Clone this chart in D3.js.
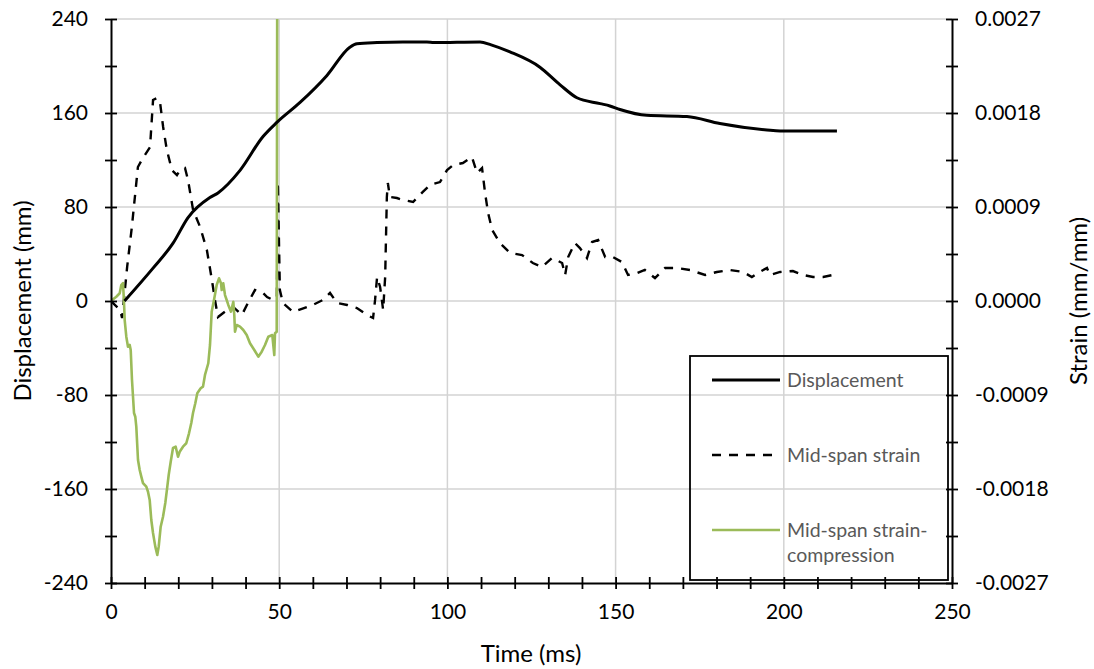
<!DOCTYPE html>
<html>
<head>
<meta charset="utf-8">
<script src="https://cdn.jsdelivr.net/npm/d3@7"></script>
<style>
  html, body { margin: 0; padding: 0; background: #fff; }
  svg { display: block; font-family: Lato, "Open Sans", "DejaVu Sans", sans-serif; }
</style>
</head>
<body>
<svg id="chart" width="1094" height="669"></svg>
<script>
// Time (ms) and displacement (mm) at mid-span
const dispTime = [4, 12.5, 18.4, 22.9, 29.4, 31.8, 38.3, 45.2, 49.3, 56.2, 64.2, 71.0, 73.1, 79.1, 86.8, 93.9, 96, 109.7, 113, 118.6, 127.5, 133.5, 138.5, 145.4, 148.3, 151.3, 159.3, 171.2, 181, 195, 198.9, 215.8];
const dispValue = [0, 28, 49, 71, 88, 92, 111, 140, 152, 169, 192, 216, 219, 220, 220.5, 220.5, 220, 220.5, 218, 212, 199, 184, 173, 168, 166, 163, 158, 157, 151, 145.5, 144.7, 144.7];

// Time (ms) and mid-span strain (mm/mm)
const strainTime = [0, 2.7, 3.3, 4.8, 6.2, 8.0, 9.5, 11.6, 12.5, 13.7, 14.6, 15.5, 16.6, 18.1, 19.6, 20.5, 22.0, 22.9, 24.4, 26.5, 28.5, 30.0, 30.9, 31.8, 34.5, 36.3, 38.9, 40.7, 42.8, 44.9, 46.4, 48.2, 49.3, 49.6, 50.2, 51.1, 54.1, 60.0, 63.0, 65.1, 67.2, 70.2, 73.1, 76.1, 77.9, 78.5, 79.1, 80.0, 80.9, 81.5, 82.0, 82.3, 82.9, 85.0, 86.8, 89.8, 92.7, 94.8, 97.8, 99.9, 101.7, 104.6, 107.3, 108.8, 110.3, 111.2, 112.1, 113.3, 115.6, 118.6, 122.2, 125.4, 128.1, 131.1, 134.1, 135.0, 135.9, 137.9, 139.4, 141.5, 143.0, 144.8, 146.9, 149.2, 151.9, 153.7, 156.4, 158.7, 161.7, 164.7, 168.3, 172.1, 176.6, 180.1, 184.0, 187.9, 190.5, 192.3, 195.0, 195.9, 198.9, 202.7, 205.7, 208.7, 211.7, 215.8];
const strainValue = [0, -0.000086, -0.000163, 0.000326, 0.000709, 0.001283, 0.001369, 0.001474, 0.001924, 0.001944, 0.001896, 0.001666, 0.001446, 0.001254, 0.001206, 0.001254, 0.001273, 0.001158, 0.000871, 0.000708, 0.000488, 0.000201, 0.00001, -0.000153, -0.000086, -0.000057, -0.000134, -0.000019, 0.000105, 0.000086, 0.000038, 0.00001, 0.000038, 0.001139, 0.000105, -0.000019, -0.000105, -0.000038, 0.00001, 0.000077, -0.000019, -0.000038, -0.000067, -0.000134, -0.000163, 0.00001, 0.00023, 0.000134, -0.000086, 0.00023, 0.000996, 0.00113, 0.000996, 0.000986, 0.000967, 0.000948, 0.001044, 0.001111, 0.001139, 0.001254, 0.001302, 0.001321, 0.001379, 0.001226, 0.001273, 0.001034, 0.000843, 0.00068, 0.000555, 0.00046, 0.00044, 0.000364, 0.000326, 0.000412, 0.000364, 0.000249, 0.000421, 0.000555, 0.000507, 0.000412, 0.000565, 0.000584, 0.000421, 0.000421, 0.000373, 0.000249, 0.000268, 0.000297, 0.00022, 0.000316, 0.000316, 0.000297, 0.000249, 0.000278, 0.000297, 0.000278, 0.00023, 0.000268, 0.000316, 0.000249, 0.000278, 0.000287, 0.000249, 0.00023, 0.00023, 0.000258];

// Time (ms) and mid-span compression strain (mm/mm); the gauge fails just before 50 ms
const compTime = [0, 1.58, 2.59, 3.06, 3.57, 3.86, 4.07, 4.55, 5.05, 5.56, 5.86, 6.24, 6.84, 7.22, 7.52, 8.03, 8.53, 9.01, 9.51, 10.49, 11.0, 11.5, 11.98, 12.49, 13.17, 13.76, 14.18, 14.77, 15.46, 16.14, 16.74, 17.15, 17.75, 18.43, 19.23, 19.92, 20.42, 21.4, 22.38, 23.19, 23.87, 24.38, 25.06, 25.65, 26.66, 27.35, 27.94, 28.92, 29.43, 29.93, 30.71, 31.42, 32.1, 32.7, 32.91, 33.38, 33.89, 34.39, 34.87, 35.67, 36.36, 36.65, 36.86, 37.37, 38.35, 39.33, 40.34, 41.32, 42.6, 43.79, 44.8, 45.78, 46.76, 47.95, 48.54, 48.75, 49.26, 49.55];
const compValue = [0, 0.000041, 0.000074, 0.000153, 0.000172, -0.000007, -0.000182, -0.000342, -0.000438, -0.000421, -0.000469, -0.000756, -0.001072, -0.001108, -0.001203, -0.001522, -0.001618, -0.001682, -0.001743, -0.001778, -0.001826, -0.001905, -0.002097, -0.002221, -0.002352, -0.002432, -0.002352, -0.002161, -0.002065, -0.001934, -0.001778, -0.001666, -0.001539, -0.001407, -0.001395, -0.001491, -0.001443, -0.001395, -0.001362, -0.001267, -0.001168, -0.001072, -0.000979, -0.000884, -0.000836, -0.00082, -0.000708, -0.000596, -0.000421, -0.000102, 0.000026, 0.000153, 0.000217, 0.000169, 0.000105, 0.000169, 0.000057, 0.00001, -0.000038, -0.000102, -0.000007, -0.000134, -0.000294, -0.00023, -0.000246, -0.000278, -0.000326, -0.000405, -0.000469, -0.000533, -0.000485, -0.000421, -0.000342, -0.000326, -0.000517, -0.000309, -0.000294, 0.006];

// Axis ticks
const xMajor = [0, 50, 100, 150, 200, 250];
const yLeftMajor = [-240, -160, -80, 0, 80, 160, 240];
const yRightMajor = [-0.0027, -0.0018, -0.0009, 0, 0.0009, 0.0018, 0.0027];

const seriesNames = ["Displacement", "Mid-span strain", "Mid-span strain-compression"];

const svg = d3.select("#chart");
const plotL = 111, plotR = 952, plotT = 19, plotB = 583;

const x = d3.scaleLinear().domain([0, 250]).range([plotL, plotR]);
const yL = d3.scaleLinear().domain([-240, 240]).range([plotB, plotT]);
const yR = d3.scaleLinear().domain([-0.0027, 0.0027]).range([plotB, plotT]);

// Number formats with a plain hyphen for negatives
const hy = f => d => f(d).replace("\u2212", "-");
const fmtInt = hy(d3.format("d"));
const fmtStrain = hy(d3.format(".4f"));

svg.append("defs").append("clipPath").attr("id", "plotClip")
  .append("rect").attr("x", plotL).attr("y", plotT).attr("width", plotR - plotL).attr("height", plotB - plotT);

// Gridlines
const grid = svg.append("g").attr("stroke", "#d3d3d3").attr("stroke-width", 1.5);
grid.selectAll("line.v").data(xMajor.filter(d => d > 0 && d < 250)).join("line").attr("class", "v")
  .attr("x1", d => x(d)).attr("x2", d => x(d)).attr("y1", plotT).attr("y2", plotB);
grid.selectAll("line.h").data(yLeftMajor.filter(d => d > -240)).join("line").attr("class", "h")
  .attr("x1", plotL).attr("x2", plotR).attr("y1", d => yL(d)).attr("y2", d => yL(d));

// Legend box (no fill, gridlines show through)
const lg = svg.append("g");
lg.append("rect").attr("x", 690).attr("y", 356).attr("width", 258).attr("height", 224)
  .attr("fill", "none").attr("stroke", "#000").attr("stroke-width", 1.8);

// Series
const plot = svg.append("g").attr("clip-path", "url(#plotClip)");
const dispData = dispTime.map((t, i) => [t, dispValue[i]]);
const strainData = strainTime.map((t, i) => [t, strainValue[i]]);
const compData = compTime.map((t, i) => [t, compValue[i]]);

plot.append("path").datum(strainData)
  .attr("fill", "none").attr("stroke", "#000").attr("stroke-width", 2.4)
  .attr("stroke-dasharray", "9,8")
  .attr("d", d3.line().x(d => x(d[0])).y(d => yR(d[1])));

plot.append("path").datum(compData)
  .attr("fill", "none").attr("stroke", "#9bbb59").attr("stroke-width", 2.6)
  .attr("stroke-linejoin", "round")
  .attr("d", d3.line().x(d => x(d[0])).y(d => yR(d[1])));

plot.append("path").datum(dispData)
  .attr("fill", "none").attr("stroke", "#000").attr("stroke-width", 3)
  .attr("stroke-linejoin", "round")
  .attr("d", d3.line().curve(d3.curveMonotoneX).x(d => x(d[0])).y(d => yL(d[1])));

// Axes: crossing tick marks
function crossTicks(g, horizontal) {
  g.selectAll(".tick line").attr(horizontal ? "y1" : "x1", -6).attr(horizontal ? "y2" : "x2", 6)
    .attr("stroke-width", 1.8);
  g.select(".domain").attr("stroke-width", 2);
}

svg.append("g").attr("transform", `translate(0,${plotB})`)
  .call(d3.axisBottom(x).tickValues(d3.range(0, 251, 10)).tickSizeOuter(0).tickFormat(""))
  .call(g => crossTicks(g, true));
svg.append("g").attr("transform", `translate(${plotL},0)`)
  .call(d3.axisLeft(yL).tickValues(d3.range(-240, 241, 40)).tickSizeOuter(0).tickFormat(""))
  .call(g => crossTicks(g, false));
svg.append("g").attr("transform", `translate(${plotR},0)`)
  .call(d3.axisRight(yR).tickValues(d3.range(-6, 7).map(k => k * 0.00045)).tickSizeOuter(0).tickFormat(""))
  .call(g => crossTicks(g, false));

// Tick labels
const labelStyle = g => {
  g.select(".domain").remove();
  g.attr("font-family", null).attr("font-size", 21);
  g.selectAll("text").attr("fill", "#000");
};
svg.append("g").attr("transform", `translate(0,${plotB})`)
  .call(d3.axisBottom(x).tickValues(xMajor).tickSize(0).tickPadding(21).tickFormat(fmtInt))
  .call(labelStyle);
svg.append("g").attr("transform", `translate(${plotL},0)`)
  .call(d3.axisLeft(yL).tickValues(yLeftMajor).tickSize(0).tickPadding(23).tickFormat(fmtInt))
  .call(labelStyle);
svg.append("g").attr("transform", `translate(${plotR},0)`)
  .call(d3.axisRight(yR).tickValues(yRightMajor).tickSize(0).tickPadding(23).tickFormat(fmtStrain))
  .call(labelStyle);

// Axis titles
svg.append("text").attr("x", 531).attr("y", 662).attr("text-anchor", "middle")
  .attr("font-size", 24).text("Time (ms)");
svg.append("text").attr("transform", `translate(31,${(plotT + plotB) / 2}) rotate(-90)`)
  .attr("text-anchor", "middle").attr("font-size", 24).text("Displacement (mm)");
svg.append("text").attr("transform", `translate(1087,${(plotT + plotB) / 2}) rotate(-90)`)
  .attr("text-anchor", "middle").attr("font-size", 24).text("Strain (mm/mm)");

// Legend entries
const lgRows = [
  { y: 380, stroke: "#000", w: 3, dash: null, lines: [seriesNames[0]] },
  { y: 455, stroke: "#000", w: 2.4, dash: "9,8", lines: [seriesNames[1]] },
  { y: 530, stroke: "#9bbb59", w: 2.6, dash: null, lines: ["Mid-span strain-", "compression"] }
];
lgRows.forEach(r => {
  lg.append("line").attr("x1", 712).attr("x2", 780).attr("y1", r.y).attr("y2", r.y)
    .attr("stroke", r.stroke).attr("stroke-width", r.w).attr("stroke-dasharray", r.dash);
  const t = lg.append("text").attr("y", r.y).attr("font-size", 19.5).attr("fill", "#595959");
  r.lines.forEach((s, i) => t.append("tspan").attr("x", 787).attr("dy", i === 0 ? "0.35em" : "1.3em").text(s));
});
</script>
</body>
</html>
